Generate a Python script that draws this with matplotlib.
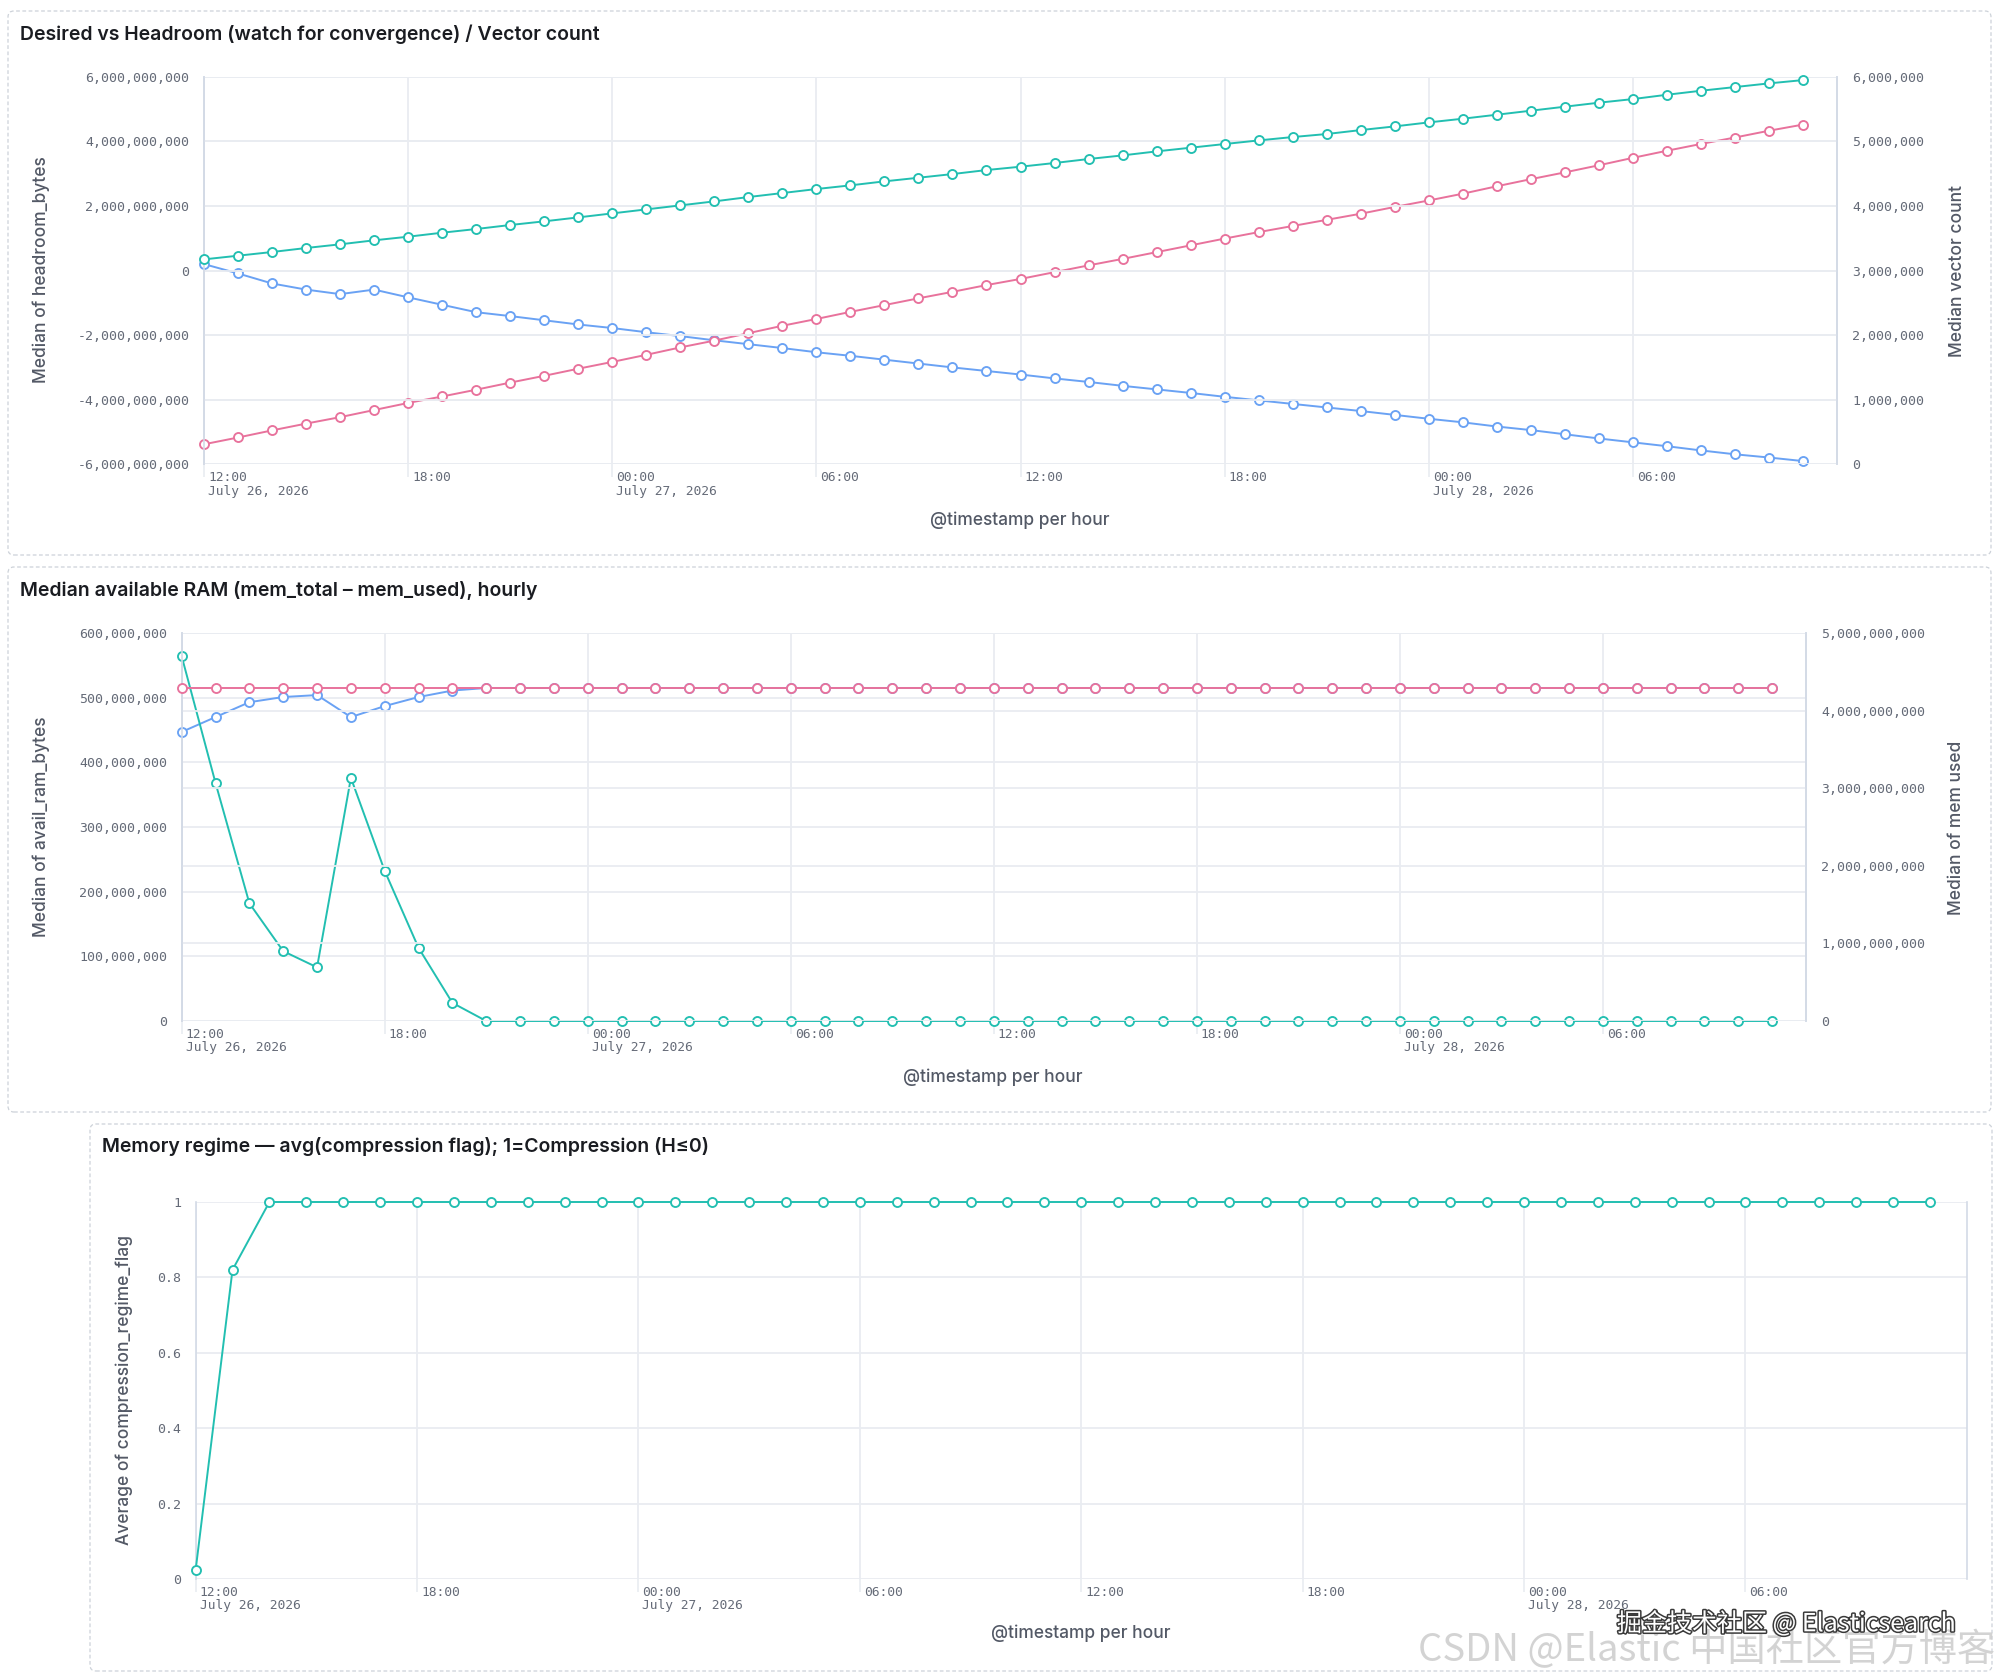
import numpy as np
import pandas as pd
import matplotlib
matplotlib.use('Agg')
import matplotlib.pyplot as plt
import matplotlib.transforms as mtransforms
import matplotlib.patheffects as pe
from matplotlib.patches import FancyBboxPatch
from matplotlib.ticker import FuncFormatter

# hourly buckets, 12:00 July 26 2026 -> 11:00 July 28 2026
timestamps = pd.date_range('2026-07-26 12:00', periods=48, freq='h')
x_ticks = pd.date_range('2026-07-26 12:00', periods=8, freq='6h')
x_tick_labels = ['12:00\nJuly 26, 2026', '18:00', '00:00\nJuly 27, 2026', '06:00',
                 '12:00', '18:00', '00:00\nJuly 28, 2026', '06:00']

# panel 1 (billions of bytes / millions of vectors)
headroom_bn = [0.20, -0.09, -0.40, -0.59, -0.73, -0.59, -0.83, -1.06, -1.29, -1.41, -1.54, -1.67,
               -1.78, -1.91, -2.03, -2.16, -2.28, -2.40, -2.53, -2.64, -2.76, -2.88, -3.00, -3.11,
               -3.22, -3.34, -3.45, -3.57, -3.68, -3.79, -3.91, -4.02, -4.13, -4.24, -4.35, -4.47,
               -4.59, -4.70, -4.83, -4.94, -5.07, -5.20, -5.32, -5.44, -5.57, -5.69, -5.79, -5.90]
desired_bn = [-5.38, -5.17, -4.95, -4.74, -4.54, -4.32, -4.10, -3.90, -3.69, -3.47, -3.26, -3.04,
              -2.83, -2.61, -2.38, -2.17, -1.94, -1.71, -1.50, -1.28, -1.07, -0.86, -0.66, -0.45,
              -0.26, -0.05, 0.16, 0.36, 0.57, 0.78, 0.99, 1.19, 1.38, 1.57, 1.76, 1.97,
              2.17, 2.38, 2.61, 2.83, 3.04, 3.26, 3.49, 3.71, 3.92, 4.12, 4.33, 4.52]
vector_count_m = [3.173, 3.230, 3.287, 3.349, 3.406, 3.468, 3.524, 3.586, 3.643, 3.705, 3.762, 3.823,
                  3.885, 3.947, 4.009, 4.071, 4.138, 4.200, 4.262, 4.319, 4.381, 4.437, 4.494, 4.556,
                  4.608, 4.665, 4.727, 4.783, 4.845, 4.902, 4.959, 5.015, 5.067, 5.114, 5.175, 5.232,
                  5.294, 5.351, 5.413, 5.475, 5.537, 5.599, 5.655, 5.722, 5.784, 5.841, 5.898, 5.949]

# panel 2 (millions of bytes / billions of bytes)
avail_ram_mb = [564, 368, 182, 108, 83, 376, 232, 113, 28, 0, 0, 0,
                0, 0, 0, 0, 0, 0, 0, 0, 0, 0, 0, 0,
                0, 0, 0, 0, 0, 0, 0, 0, 0, 0, 0, 0,
                0, 0, 0, 0, 0, 0, 0, 0, 0, 0, 0, 0]
free_ram_mb = [447, 470, 493, 501, 504, 470, 487, 501, 511, 515, 515, 515,
               515, 515, 515, 515, 515, 515, 515, 515, 515, 515, 515, 515,
               515, 515, 515, 515, 515, 515, 515, 515, 515, 515, 515, 515,
               515, 515, 515, 515, 515, 515, 515, 515, 515, 515, 515, 515]
mem_used_bn = [4.287, 4.287, 4.287, 4.287, 4.287, 4.287, 4.287, 4.287, 4.287, 4.287, 4.287, 4.287,
               4.287, 4.287, 4.287, 4.287, 4.287, 4.287, 4.287, 4.287, 4.287, 4.287, 4.287, 4.287,
               4.287, 4.287, 4.287, 4.287, 4.287, 4.287, 4.287, 4.287, 4.287, 4.287, 4.287, 4.287,
               4.287, 4.287, 4.287, 4.287, 4.287, 4.287, 4.287, 4.287, 4.287, 4.287, 4.287, 4.287]

# panel 3
compression_flag = [0.023, 0.82, 1, 1, 1, 1, 1, 1, 1, 1, 1, 1,
                    1, 1, 1, 1, 1, 1, 1, 1, 1, 1, 1, 1,
                    1, 1, 1, 1, 1, 1, 1, 1, 1, 1, 1, 1,
                    1, 1, 1, 1, 1, 1, 1, 1, 1, 1, 1, 1]

TEAL = '#22BFB1'
BLUE = '#6AA2F4'
PINK = '#E8729C'
GRID = '#E9ECF1'
SPINE = '#D3DAE6'
TICK_C = '#646a77'
LABEL_C = '#535966'
TITLE_C = '#1a1c21'

W, H = 1999, 1678
plt.rcParams['font.family'] = ['Inter', 'DejaVu Sans']
fig = plt.figure(figsize=(W / 100, H / 100), dpi=100)


def fx(x):
    return x / W


def fy(y):
    return 1 - y / H


def panel_box(x0, y0, x1, y1):
    box = FancyBboxPatch((x0, H - y1), x1 - x0, y1 - y0,
                         boxstyle='round,pad=0,rounding_size=6',
                         transform=mtransforms.IdentityTransform(),
                         fill=False, ec='#CDD2D9', lw=0.9, ls=(0, (3, 2)))
    fig.add_artist(box)


def make_axes(l, t, r, b):
    return fig.add_axes([fx(l), fy(b), fx(r) - fx(l), (b - t) / H])


def style(ax, ylim, yticks, fmt):
    ax.set_ylim(*ylim)
    ax.set_yticks(yticks)
    ax.yaxis.set_major_formatter(FuncFormatter(fmt))
    ax.tick_params(axis='y', length=0, pad=10.5, labelsize=9.5, labelcolor=TICK_C,
                   labelfontfamily='DejaVu Sans Mono')
    ax.grid(True, axis='y', color=GRID, lw=1.3)
    ax.set_axisbelow(True)
    for s in ['top', 'bottom']:
        ax.spines[s].set_visible(False)
    for s in ['left', 'right']:
        ax.spines[s].set_color(SPINE)
        ax.spines[s].set_linewidth(1.2)


def style_x(ax):
    ax.set_xlim(timestamps[0], timestamps[0] + pd.Timedelta(hours=48))
    ax.set_xticks(x_ticks)
    ax.set_xticklabels(x_tick_labels, ha='left', va='top', linespacing=1.05)
    ax.tick_params(axis='x', length=9, width=1.2, color=GRID, pad=-4, labelsize=9.3,
                   labelcolor=TICK_C, labelfontfamily='DejaVu Sans Mono')
    ax.grid(True, axis='x', color=GRID, lw=1.3)
    offset = mtransforms.ScaledTranslation(4 / 100, 0, fig.dpi_scale_trans)
    for lab in ax.get_xticklabels():
        lab.set_transform(lab.get_transform() + offset)


def series(ax, y, color):
    ax.plot(timestamps, y, color=color, lw=1.4, marker='o', ms=6.5, mfc='white',
            mec=color, mew=1.35, clip_on=False, zorder=3)


comma = lambda v, p: f'{v:,.0f}'

# ---- panel 1
panel_box(8, 11, 1991, 555)
ax1 = make_axes(204, 76.8, 1837, 464.3)
style(ax1, (-6e9, 6e9), np.arange(-6e9, 6.1e9, 2e9), comma)
style_x(ax1)
series(ax1, np.array(headroom_bn) * 1e9, BLUE)
series(ax1, np.array(desired_bn) * 1e9, PINK)
ax1r = ax1.twinx()
style(ax1r, (0, 6e6), np.arange(0, 6.1e6, 1e6), comma)
ax1r.tick_params(axis='y', pad=11)
series(ax1r, np.array(vector_count_m) * 1e6, TEAL)

# ---- panel 2
panel_box(8, 567, 1991, 1112)
ax2 = make_axes(181.7, 633, 1806, 1021)
style(ax2, (0, 6e8), np.arange(0, 6.1e8, 1e8), comma)
style_x(ax2)
series(ax2, np.array(free_ram_mb) * 1e6, BLUE)
series(ax2, np.array(avail_ram_mb) * 1e6, TEAL)
ax2r = ax2.twinx()
style(ax2r, (0, 5e9), np.arange(0, 5.1e9, 1e9), comma)
ax2r.tick_params(axis='y', pad=11)
series(ax2r, np.array(mem_used_bn) * 1e9, PINK)

# ---- panel 3
panel_box(90, 1124, 1992, 1671)
ax3 = make_axes(195.6, 1202, 1966.8, 1579)
style(ax3, (0, 1), np.arange(0, 1.01, 0.2), lambda v, p: f'{v:g}')
style_x(ax3)
series(ax3, compression_flag, TEAL)

# ---- titles and labels
title_kw = dict(fontsize=14, color=TITLE_C, fontweight='semibold', ha='left', va='center')
fig.text(fx(20), fy(34), 'Desired vs Headroom (watch for convergence) / Vector count', **title_kw)
fig.text(fx(20), fy(590), 'Median available RAM (mem_total \u2013 mem_used), hourly', **title_kw)
fig.text(fx(102), fy(1147), 'Memory regime \u2014 avg(compression flag); 1=Compression (H\u22640)', **title_kw)

lab_kw = dict(fontsize=12.5, color=LABEL_C, fontweight='medium', ha='center', va='center')
fig.text(fx(41), fy(270), 'Median of headroom_bytes', rotation=90, **lab_kw)
fig.text(fx(1958), fy(271), 'Median vector count', rotation=90, **lab_kw)
fig.text(fx(1020), fy(520), '@timestamp per hour', **lab_kw)
fig.text(fx(41), fy(827), 'Median of avail_ram_bytes', rotation=90, **lab_kw)
fig.text(fx(1957), fy(828), 'Median of mem used', rotation=90, **lab_kw)
fig.text(fx(993), fy(1077), '@timestamp per hour', **lab_kw)
fig.text(fx(124), fy(1390), 'Average of compression_regime_flag', rotation=90, **lab_kw)
fig.text(fx(1081), fy(1633), '@timestamp per hour', **lab_kw)

# ---- watermarks
fig.text(fx(1418), fy(1650), 'CSDN @Elastic \u4e2d\u56fd\u793e\u533a\u5b98\u65b9\u535a\u5ba2', fontsize=27.5,
         color='#cfcfcf', alpha=0.9, ha='left', va='center',
         family=['Noto Sans CJK SC', 'DejaVu Sans'])
fig.text(fx(1617), fy(1624), '\u6398\u91d1\u6280\u672f\u793e\u533a @ Elasticsearch', fontsize=18,
         color='white', ha='left', va='center', family=['Noto Sans CJK SC', 'DejaVu Sans'],
         path_effects=[pe.withStroke(linewidth=2.2, foreground='#3a3a3a')])

fig.savefig('out.png', dpi=100, facecolor='white')
